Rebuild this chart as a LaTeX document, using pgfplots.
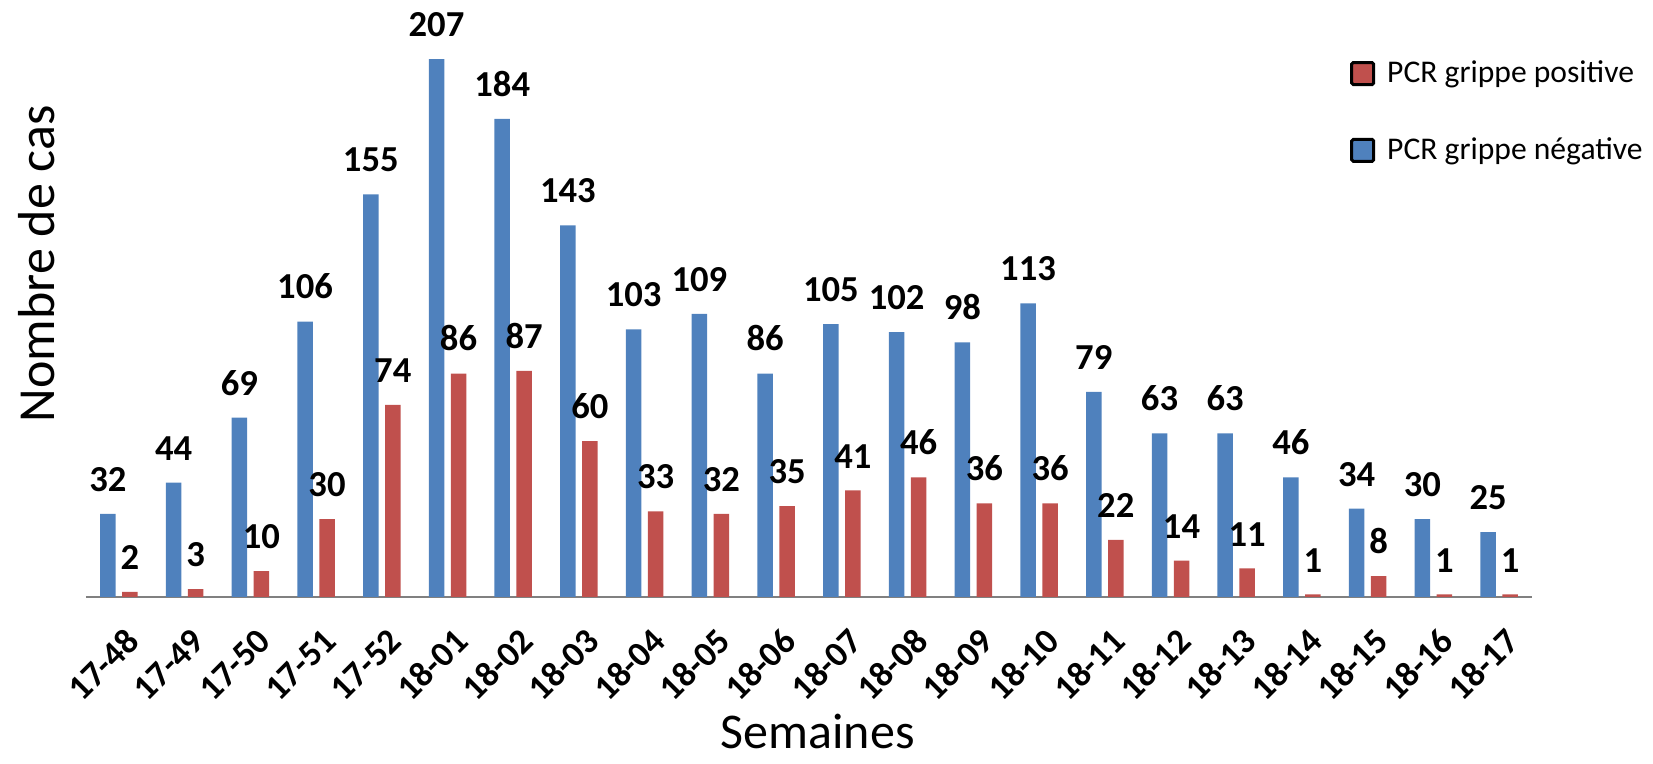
\documentclass[border=0pt]{standalone}
\usepackage{pgfplots}
\pgfplotsset{compat=1.18}
\usepackage{fontspec}
\setmainfont{Carlito}
\usetikzlibrary{calc}
\definecolor{cblue}{RGB}{79,129,189}
\definecolor{cred}{RGB}{192,80,77}
\pgfplotsset{boxlegend/.style={legend image code/.code={\draw[##1, draw=black, line width=1.5pt, rounded corners=0.8pt] (0pt,-5.5pt) rectangle (11pt,5.5pt);}}}
\begin{document}
\begin{tikzpicture}
\begin{axis}[
  name=ax,
  scale only axis,
  width=723pt, height=298.5pt,
  xmin=-0.5, xmax=21.5, ymin=0, ymax=229.8,
  ybar=3.25pt, bar width=7.75pt,
  axis x line=bottom, axis y line=left,
  x axis line style={draw=gray, line width=1pt, -},
  y axis line style={draw=none},
  ytick=\empty,
  xtick={0,...,21},
  xticklabels={17-48,17-49,17-50,17-51,17-52,18-01,18-02,18-03,18-04,18-05,18-06,18-07,18-08,18-09,18-10,18-11,18-12,18-13,18-14,18-15,18-16,18-17},
  major tick length=0pt,
  xticklabel style={font=\bfseries\fontsize{17.8}{17.8}\selectfont, xshift=7pt, yshift=-19pt, rotate=45, anchor=east, inner sep=0pt},
  ylabel={Nombre de cas},
  ylabel style={font=\fontsize{26}{26}\selectfont, at={(rel axis cs:-0.034,0.558)}, anchor=center},
  xlabel={Semaines},
  xlabel style={font=\fontsize{25}{25}\selectfont, at={(rel axis cs:0.506,-0.226)}, anchor=center, inner sep=0pt},
  nodes near coords,
  /pgf/number format/assume math mode=true,
  every node near coord/.append style={font=\bfseries\fontsize{18.3}{18.3}\selectfont, inner sep=0pt, yshift=11pt, anchor=south, text=black},
  legend style={at={(rel axis cs:0.874,0.905)}, anchor=north west, draw=none, fill=none, inner sep=0pt, font=\fontsize{15.8}{15.8}\selectfont, row sep=22pt, nodes={inner xsep=6pt}},
  legend cell align=left,
  reverse legend,
]
\addplot[fill=cblue, draw=none, boxlegend] coordinates {
(0,32) (1,44) (2,69) (3,106) (4,155) (5,207) (6,184) (7,143) (8,103) (9,109) (10,86)
(11,105) (12,102) (13,98) (14,113) (15,79) (16,63) (17,63) (18,46) (19,34) (20,30) (21,25)};
\addlegendentry{PCR grippe négative}
\addplot[fill=cred, draw=none, boxlegend] coordinates {
(0,2) (1,3) (2,10) (3,30) (4,74) (5,86) (6,87) (7,60) (8,33) (9,32) (10,35)
(11,41) (12,46) (13,36) (14,36) (15,22) (16,14) (17,11) (18,1) (19,8) (20,1) (21,1)};
\addlegendentry{PCR grippe positive}
\end{axis}
\pgfresetboundingbox
\path ($(ax.south west)+(-43pt,-83.5pt)$) rectangle ($(ax.north east)+(60.5pt,0pt)$);
\end{tikzpicture}
\end{document}
